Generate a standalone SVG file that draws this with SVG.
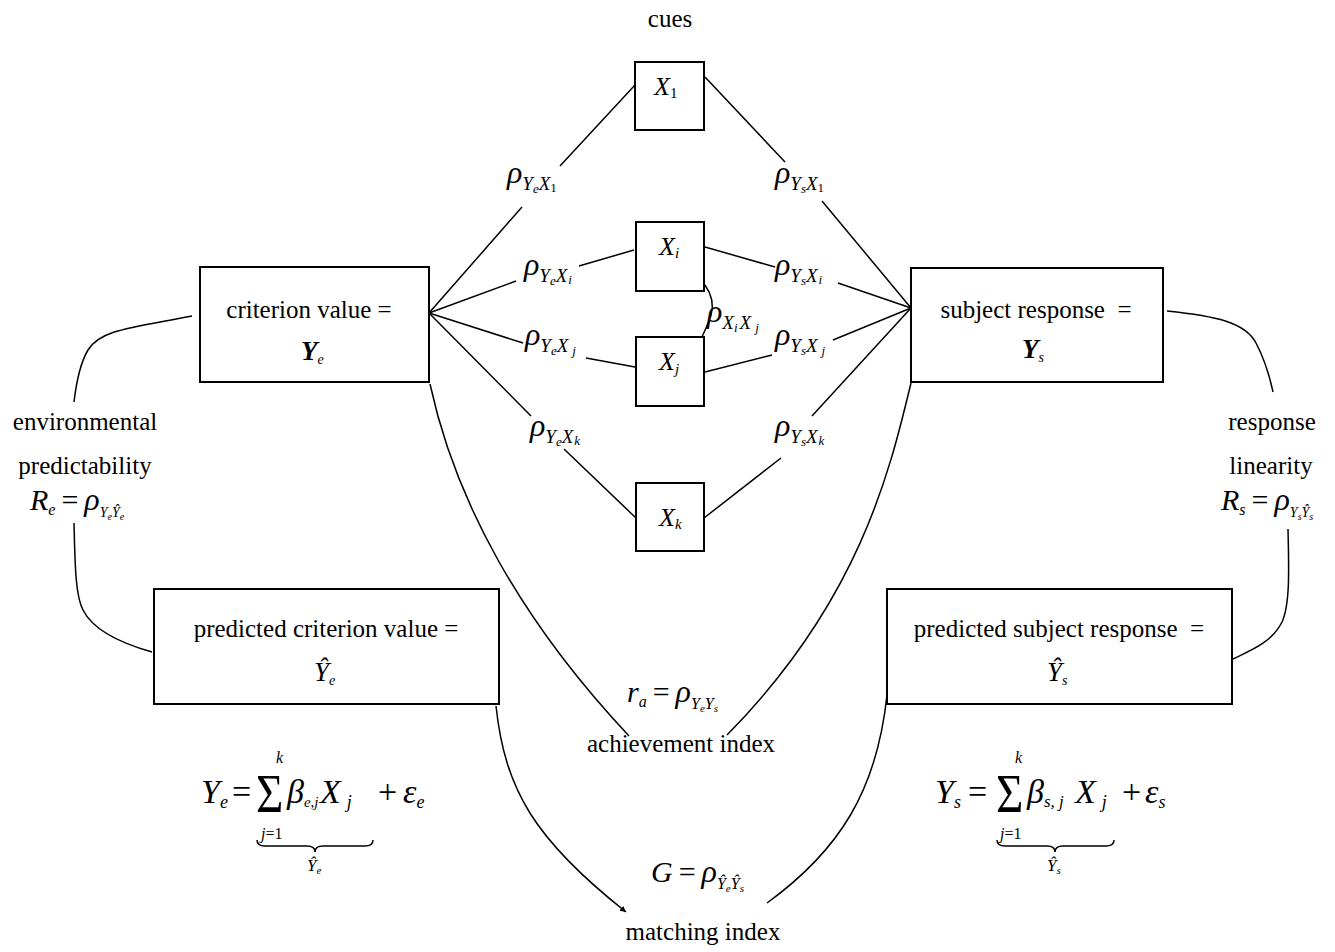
<svg xmlns="http://www.w3.org/2000/svg" width="1335" height="952" viewBox="0 0 1335 952">
<style>
.box{fill:#fff;stroke:#000;stroke-width:2}
.ln{fill:none;stroke:#000;stroke-width:1.5}
.t{font-family:"Liberation Serif","Times New Roman",serif;fill:#000}
.n{font-size:25px}
.i{font-family:"Liberation Serif","Times New Roman",serif;font-style:italic;fill:#000}
.u{font-style:normal}
.rho{font-size:32px}
.s1{font-size:19px}
.s2{font-size:13px}
</style>
<defs>
<marker id="ah" markerWidth="8" markerHeight="8" refX="6" refY="3" orient="auto" markerUnits="userSpaceOnUse">
<path d="M0,0 L6,3 L0,6 z" fill="#000"/>
</marker>
</defs>
<g id="connectors">
<path class="ln" d="M429,313 L522,207 M560,166 L635,85"/>
<path class="ln" d="M429,313 L516,281 M579,266 L634,250"/>
<path class="ln" d="M429,313 L523,343 M586,358 L635,367"/>
<path class="ln" d="M429,313 L531,416 M564,449 L636,518"/>
<path class="ln" d="M705,77 L785,162 M822,201 L911,308"/>
<path class="ln" d="M705,247 L775,267 M838,283 L911,308"/>
<path class="ln" d="M705,372 L772,355 M833,340 L911,308"/>
<path class="ln" d="M704,518 L781,458 M812,416 L911,308"/>
<path class="ln" d="M705,285 C712,295 714,305 711,315 C708,325 704,332 702,337"/>
<path class="ln" d="M192,316 C130,328 100,330 88,350 C79,365 76,385 74,402"/>
<path class="ln" d="M74,523 C75,560 75,595 83,610 C93,630 120,643 152,652"/>
<path class="ln" d="M1167,311 C1215,316 1245,322 1256,343 C1265,360 1270,378 1273,392"/>
<path class="ln" d="M1288,529 C1289,570 1290,605 1282,622 C1272,642 1252,650 1233,659"/>
<path class="ln" d="M430,384 C455,500 520,620 629,736"/>
<path class="ln" d="M911,383 C890,470 860,600 727,735"/>
<path class="ln" d="M496,706 C505,790 535,840 626,912" marker-end="url(#ah)"/>
<path class="ln" d="M887,695 C877,790 840,850 767,903"/>
</g>
<g id="cues-label"><text class="t n" x="670" y="27" text-anchor="middle">cues</text></g>
<g id="x1"><rect class="box" x="635" y="62" width="69" height="68"/>
<text class="i" x="654" y="95" font-size="26">X<tspan class="u" font-size="15" dy="3">1</tspan></text></g>
<g id="xi"><rect class="box" x="636" y="222" width="68" height="69"/>
<text class="i" x="659" y="255" font-size="26">X<tspan font-size="15" dy="3">i</tspan></text></g>
<g id="xj"><rect class="box" x="636" y="337" width="68" height="69"/>
<text class="i" x="659" y="370" font-size="26">X<tspan font-size="15" dy="4">j</tspan></text></g>
<g id="xk"><rect class="box" x="636" y="483" width="68" height="68"/>
<text class="i" x="659" y="526" font-size="26">X<tspan font-size="15" dy="3">k</tspan></text></g>
<g id="criterion"><rect class="box" x="200" y="267" width="229" height="115"/>
<text class="t n" x="309" y="318" text-anchor="middle">criterion value =</text>
<text class="i" x="301" y="360" font-size="27" font-weight="bold">Y<tspan font-size="14" font-weight="normal" dy="4">e</tspan></text></g>
<g id="subject"><rect class="box" x="911" y="268" width="252" height="114"/>
<text class="t n" x="1036" y="318" text-anchor="middle" xml:space="preserve">subject response  =</text>
<text class="i" x="1022" y="358" font-size="27" font-weight="bold">Y<tspan font-size="14" font-weight="normal" dy="4">s</tspan></text></g>
<g id="pred-criterion"><rect class="box" x="154" y="589" width="345" height="115"/>
<text class="t n" x="326" y="637" text-anchor="middle">predicted criterion value =</text>
<text class="i" x="314" y="681" font-size="27">Ŷ<tspan font-size="14" dy="4">e</tspan></text></g>
<g id="pred-subject"><rect class="box" x="887" y="589" width="345" height="115"/>
<text class="t n" x="1059" y="637" text-anchor="middle" xml:space="preserve">predicted subject response  =</text>
<text class="i" x="1047" y="681" font-size="27">Ŷ<tspan font-size="14" dy="4">s</tspan></text></g>
<g id="rho-labels">
<text class="i rho" x="507" y="183">ρ<tspan class="s1" dy="7">Y</tspan><tspan class="s2" dy="3">e</tspan><tspan class="s1" dy="-3">X</tspan><tspan class="s2 u" dy="2">1</tspan></text>
<text class="i rho" x="524" y="275">ρ<tspan class="s1" dy="7">Y</tspan><tspan class="s2" dy="3">e</tspan><tspan class="s1" dy="-3">X</tspan><tspan class="s2" dx="1" dy="2">i</tspan></text>
<text class="i rho" x="525" y="345">ρ<tspan class="s1" dy="7">Y</tspan><tspan class="s2" dy="3">e</tspan><tspan class="s1" dy="-3">X</tspan><tspan class="s2" dx="4" dy="3">j</tspan></text>
<text class="i rho" x="530" y="436">ρ<tspan class="s1" dy="7">Y</tspan><tspan class="s2" dy="3">e</tspan><tspan class="s1" dy="-3">X</tspan><tspan class="s2" dx="1" dy="2">k</tspan></text>
<text class="i rho" x="775" y="183">ρ<tspan class="s1" dy="7">Y</tspan><tspan class="s2" dy="3">s</tspan><tspan class="s1" dy="-3">X</tspan><tspan class="s2 u" dy="2">1</tspan></text>
<text class="i rho" x="775" y="275">ρ<tspan class="s1" dy="7">Y</tspan><tspan class="s2" dy="3">s</tspan><tspan class="s1" dy="-3">X</tspan><tspan class="s2" dx="1" dy="2">i</tspan></text>
<text class="i rho" x="775" y="345">ρ<tspan class="s1" dy="7">Y</tspan><tspan class="s2" dy="3">s</tspan><tspan class="s1" dy="-3">X</tspan><tspan class="s2" dx="4" dy="3">j</tspan></text>
<text class="i rho" x="775" y="436">ρ<tspan class="s1" dy="7">Y</tspan><tspan class="s2" dy="3">s</tspan><tspan class="s1" dy="-3">X</tspan><tspan class="s2" dx="1" dy="2">k</tspan></text>
<text class="i rho" x="707" y="322">ρ<tspan class="s1" dy="7">X</tspan><tspan class="s2" dy="3">i</tspan><tspan class="s1" dx="2" dy="-3">X</tspan><tspan class="s2" dx="4" dy="3">j</tspan></text>
</g>
<g id="env-label">
<text class="t n" x="85" y="430" text-anchor="middle">environmental</text>
<text class="t n" x="85" y="474" text-anchor="middle">predictability</text>
<text class="i" x="30" y="510" font-size="30">R<tspan font-size="16" dy="5">e</tspan><tspan class="u" font-size="30" dx="6" dy="-5">=</tspan><tspan class="rho" dx="6">ρ</tspan><tspan font-size="14" dy="7">Y</tspan><tspan font-size="10" dy="3">e</tspan><tspan font-size="14" dy="-3">Ŷ</tspan><tspan font-size="10" dy="3">e</tspan></text>
</g>
<g id="resp-label">
<text class="t n" x="1272" y="430" text-anchor="middle">response</text>
<text class="t n" x="1271" y="474" text-anchor="middle">linearity</text>
<text class="i" x="1221" y="510" font-size="30">R<tspan font-size="16" dy="5">s</tspan><tspan class="u" font-size="30" dx="6" dy="-5">=</tspan><tspan class="rho" dx="6">ρ</tspan><tspan font-size="14" dy="7">Y</tspan><tspan font-size="10" dy="3">s</tspan><tspan font-size="14" dy="-3">Ŷ</tspan><tspan font-size="10" dy="3">s</tspan></text>
</g>
<g id="achievement">
<text class="i" x="627" y="702" font-size="30">r<tspan font-size="16" dy="5">a</tspan><tspan class="u" font-size="30" dx="6" dy="-5">=</tspan><tspan class="rho" dx="6">ρ</tspan><tspan font-size="16" dy="7">Y</tspan><tspan font-size="11" dy="3">e</tspan><tspan font-size="16" dy="-3">Y</tspan><tspan font-size="11" dy="3">s</tspan></text>
<text class="t n" x="681" y="752" text-anchor="middle">achievement index</text>
</g>
<g id="matching">
<text class="i" x="651" y="882" font-size="30">G<tspan class="u" dx="6">=</tspan><tspan class="rho" dx="6">ρ</tspan><tspan font-size="16" dy="7">Ŷ</tspan><tspan font-size="11" dy="3">e</tspan><tspan font-size="16" dy="-3">Ŷ</tspan><tspan font-size="11" dy="3">s</tspan></text>
<text class="t n" x="703" y="940" text-anchor="middle">matching index</text>
</g>
<g id="formula-e">
<text class="i" x="201" y="803" font-size="34">Y<tspan font-size="18" dy="5">e</tspan></text>
<text class="t" x="232" y="803" font-size="34">=</text>
<text class="t" x="0" y="0" font-size="54" transform="translate(256,812) scale(0.87,1)">Σ</text>
<text class="i" x="276" y="763" font-size="16">k</text>
<text class="i" x="261" y="839" font-size="16">j<tspan class="u">=1</tspan></text>
<text class="i" x="287" y="803" font-size="34">β<tspan font-size="15" dy="4">e,j</tspan></text>
<text class="i" x="320" y="803" font-size="34">X<tspan font-size="18" dx="6" dy="5">j</tspan></text>
<text class="t" x="378" y="803" font-size="34">+</text>
<text class="i" x="403" y="803" font-size="34">ε<tspan font-size="18" dy="5">e</tspan></text>
<path class="ln" d="M257,840 Q257,846 265,846 L307,846 Q315,846 315,852 Q315,846 323,846 L365,846 Q373,846 373,840"/>
<text class="i" x="307" y="871" font-size="17">Ŷ<tspan font-size="11" dy="3">e</tspan></text>
</g>
<g id="formula-s">
<text class="i" x="935" y="803" font-size="34">Y<tspan font-size="18" dy="5">s</tspan></text>
<text class="t" x="968" y="803" font-size="34">=</text>
<text class="t" x="0" y="0" font-size="54" transform="translate(996,812) scale(0.87,1)">Σ</text>
<text class="i" x="1015" y="763" font-size="16">k</text>
<text class="i" x="1000" y="839" font-size="16">j<tspan class="u">=1</tspan></text>
<text class="i" x="1027" y="803" font-size="34">β<tspan font-size="17" dy="4" xml:space="preserve">s, j</tspan></text>
<text class="i" x="1075" y="803" font-size="34">X<tspan font-size="18" dx="6" dy="5">j</tspan></text>
<text class="t" x="1122" y="803" font-size="34">+</text>
<text class="i" x="1145" y="803" font-size="34">ε<tspan font-size="18" dy="5">s</tspan></text>
<path class="ln" d="M997,840 Q997,846 1005,846 L1047,846 Q1055,846 1055,852 Q1055,846 1063,846 L1106,846 Q1114,846 1114,840"/>
<text class="i" x="1047" y="871" font-size="17">Ŷ<tspan font-size="11" dy="3">s</tspan></text>
</g>
</svg>
